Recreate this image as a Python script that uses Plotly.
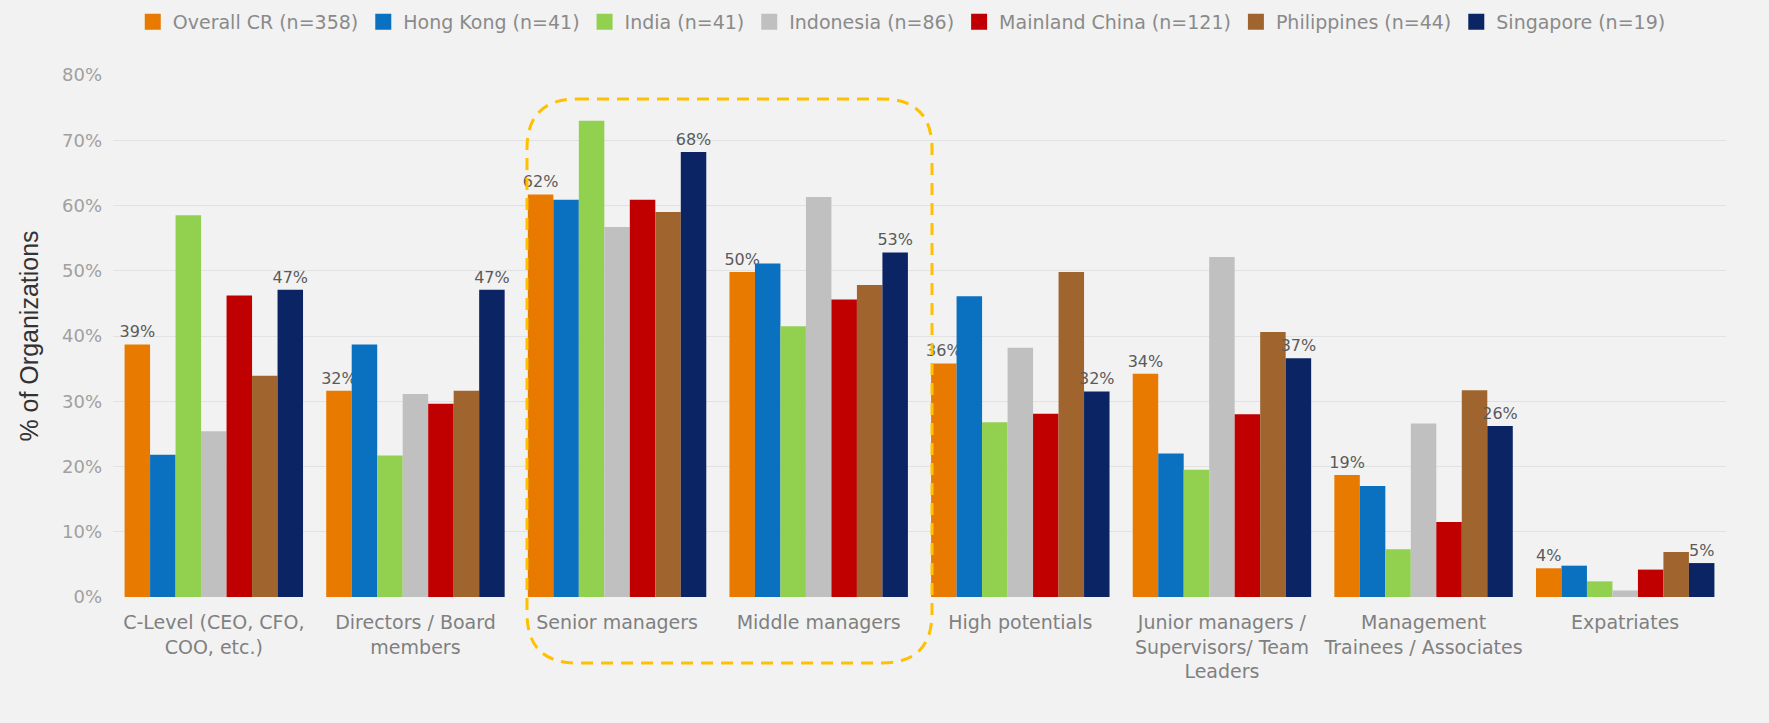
import plotly.graph_objects as go

categories = [
    "C-Level (CEO, CFO,<br>COO, etc.)",
    "Directors / Board<br>members",
    "Senior managers",
    "Middle managers",
    "High potentials",
    "Junior managers /<br>Supervisors/ Team<br>Leaders",
    "Management<br>Trainees / Associates",
    "Expatriates",
]

series_names = [
    "Overall CR (n=358)",
    "Hong Kong (n=41)",
    "India (n=41)",
    "Indonesia (n=86)",
    "Mainland China (n=121)",
    "Philippines (n=44)",
    "Singapore (n=19)",
]

overall_cr = [38.7, 31.6, 61.7, 49.8, 35.8, 34.2, 18.7, 4.4]
hong_kong = [21.8, 38.7, 60.9, 51.1, 46.1, 22.0, 17.0, 4.8]
india = [58.5, 21.7, 73.0, 41.5, 26.8, 19.5, 7.3, 2.4]
indonesia = [25.4, 31.1, 56.7, 61.3, 38.2, 52.1, 26.6, 1.0]
mainland_china = [46.2, 29.6, 60.9, 45.6, 28.1, 28.0, 11.5, 4.2]
philippines = [33.9, 31.6, 59.0, 47.8, 49.8, 40.6, 31.7, 6.9]
singapore = [47.1, 47.1, 68.2, 52.8, 31.5, 36.6, 26.2, 5.2]

values = [overall_cr, hong_kong, india, indonesia, mainland_china, philippines, singapore]
colors = ["#E97A00", "#0A70C0", "#92D050", "#C0C0C0", "#C00000", "#A0652F", "#0B2463"]
labelled = {0, 6}

FONT = "DejaVu Sans, Verdana, sans-serif"

fig = go.Figure()
for i, (name, vals, col) in enumerate(zip(series_names, values, colors)):
    fig.add_trace(go.Bar(
        name=name,
        x=categories,
        y=vals,
        marker=dict(color=col, line=dict(width=0)),
        text=[f"{round(v):d}%" for v in vals] if i in labelled else None,
        textposition="outside" if i in labelled else "none",
        textfont=dict(family=FONT, size=16, color="#5A5A5A"),
        constraintext="none",
        cliponaxis=False,
        showlegend=False,
    ))
# legend entries with larger square swatches
for name, col in zip(series_names, colors):
    fig.add_trace(go.Scatter(
        name=name, x=[None], y=[None], mode="markers",
        marker=dict(symbol="square", size=16, color=col),
        showlegend=True, hoverinfo="skip",
    ))

W, H = 1769, 723
ml, mr, mt, mb = 113, 43, 75, 126
pw = W - ml - mr
ph = H - mt - mb

def px(x):
    return (x - ml) / pw

def py(y):
    return (H - mb - y) / ph

# rounded dashed highlight box (pixel coords converted to paper)
L, R, T, B, r = 527, 932, 99, 663, 50
path = (
    f"M {px(L + r)},{py(T)} L {px(R - r)},{py(T)} "
    f"Q {px(R)},{py(T)} {px(R)},{py(T + r)} "
    f"L {px(R)},{py(B - r)} "
    f"Q {px(R)},{py(B)} {px(R - r)},{py(B)} "
    f"L {px(L + r)},{py(B)} "
    f"Q {px(L)},{py(B)} {px(L)},{py(B - r)} "
    f"L {px(L)},{py(T + r)} "
    f"Q {px(L)},{py(T)} {px(L + r)},{py(T)} Z"
)

fig.update_layout(
    width=W, height=H,
    margin=dict(l=ml, r=mr, t=mt, b=mb, autoexpand=False),
    paper_bgcolor="#F2F2F2",
    plot_bgcolor="#F2F2F2",
    barmode="group",
    bargap=0.115,
    bargroupgap=0,
    font=dict(family=FONT, color="#808080"),
    legend=dict(
        orientation="h",
        x=0.489, xanchor="center",
        y=py(22), yanchor="middle",
        font=dict(size=19, color="#8A8A8A"),
        bgcolor="rgba(0,0,0,0)",
        traceorder="normal",
        itemwidth=30,
    ),
    yaxis=dict(
        range=[0, 80],
        dtick=10,
        ticksuffix="%",
        showgrid=True,
        gridcolor="#E2E2E2",
        gridwidth=1,
        zeroline=False,
        tickfont=dict(size=18, color="#A0A0A0"),
        ticks="",
        ticklabelstandoff=10,
        title=dict(text="% of Organizations",
                   font=dict(family="Liberation Sans, Arial", size=25, color="#333333"),
                   standoff=16),
    ),
    xaxis=dict(
        tickfont=dict(size=19, color="#808080"),
        showgrid=False,
        ticks="",
        showline=False,
        ticklabelstandoff=12,
    ),
    shapes=[dict(
        type="path",
        path=path,
        xref="paper", yref="paper",
        line=dict(color="#FFC000", width=3, dash="12px,8px"),
        fillcolor="rgba(0,0,0,0)",
        layer="above",
    )],
)

fig.write_html("out.html")
